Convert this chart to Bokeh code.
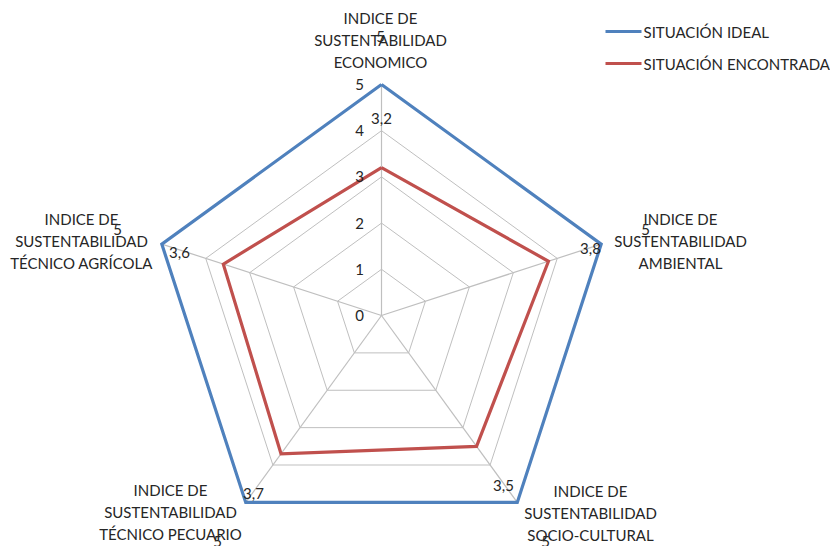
import math
from bokeh.plotting import figure
from bokeh.models import Range1d
from bokeh.core.properties import value
from bokeh.embed import file_html
from bokeh.resources import INLINE

# Radar axes, clockwise from the top
categories = [
    "INDICE DE\nSUSTENTABILIDAD\nECONOMICO",
    "INDICE DE\nSUSTENTABILIDAD\nAMBIENTAL",
    "INDICE DE\nSUSTENTABILIDAD\nSOCIO-CULTURAL",
    "INDICE DE\nSUSTENTABILIDAD\nTÉCNICO PECUARIO",
    "INDICE DE\nSUSTENTABILIDAD\nTÉCNICO AGRÍCOLA",
]
ideal = [5, 5, 5, 5, 5]
encontrada = [3.2, 3.8, 3.5, 3.7, 3.6]
ticks = [0, 1, 2, 3, 4, 5]
series_names = ["SITUACIÓN IDEAL", "SITUACIÓN ENCONTRADA"]

BLUE = "#4F81BD"
RED = "#C0504D"
GRID = "#BFBFBF"
TXT = "#262626"
FONT = value("Lato")

W, H = 830, 546
CX, CY = 381, 315      # pixel centre of the radar
S = 46.2               # pixels per unit


def to_data(px, py):
    return (px - CX) / S, (CY - py) / S


n = len(categories)
angles = [math.pi / 2 - 2 * math.pi * i / n for i in range(n)]


def polygon(vals):
    xs = [v * math.cos(a) for v, a in zip(vals, angles)]
    ys = [v * math.sin(a) for v, a in zip(vals, angles)]
    return xs + xs[:1], ys + ys[:1]


p = figure(width=W, height=H, output_backend="svg", toolbar_location=None,
           x_range=Range1d(-CX / S, (W - CX) / S),
           y_range=Range1d((CY - H) / S, CY / S),
           min_border=0)
p.axis.visible = False
p.grid.visible = False
p.outline_line_color = None
p.background_fill_color = "white"

# rings and spokes
for t in ticks[1:]:
    xs, ys = polygon([t] * n)
    p.line(xs, ys, line_color=GRID, line_width=1)
for a in angles:
    p.line([0, ticks[-1] * math.cos(a)], [0, ticks[-1] * math.sin(a)],
           line_color=GRID, line_width=1.2)

# series
xs, ys = polygon(ideal)
p.line(xs, ys, line_color=BLUE, line_width=3.2, line_join="miter")
xs, ys = polygon(encontrada)
p.line(xs, ys, line_color=RED, line_width=3.2, line_join="miter")

# radial tick labels along the top spoke
tx, _ = to_data(359, 0)
p.text([tx] * len(ticks), [t for t in ticks], text=[str(t) for t in ticks],
       text_font=FONT, text_font_size="15px", text_color=TXT,
       text_align="center", text_baseline="middle")

# category labels: block centres (px) and line spacing
cat_pos = [(380, 39), (680, 240), (590, 512), (170, 511), (81, 240)]
LINE = 22
for label, (px, py) in zip(categories, cat_pos):
    lines = label.split("\n")
    k = len(lines)
    for j, ln in enumerate(lines):
        x, y = to_data(px, py + (j - (k - 1) / 2) * LINE)
        p.text([x], [y], text=[ln], text_font=FONT, text_font_size="15px",
               text_color=TXT, text_align="center", text_baseline="middle")

# data labels
ideal_pos = [(380, 36), (645, 229), (545, 541), (217, 541), (117, 229)]
enc_pos = [(381, 118), (590, 248), (503, 485), (253, 493), (179, 252)]


def fmt(v):
    return ("%g" % v).replace(".", ",")


for vals, pos in ((ideal, ideal_pos), (encontrada, enc_pos)):
    for v, (px, py) in zip(vals, pos):
        x, y = to_data(px, py)
        p.text([x], [y], text=[fmt(v)], text_font=FONT, text_font_size="15px",
               text_color=TXT, text_align="center", text_baseline="middle")

# legend
for name, col, py in zip(series_names, [BLUE, RED], [31, 63]):
    x0, y0 = to_data(605, py)
    x1, _ = to_data(641, py)
    p.line([x0, x1], [y0, y0], line_color=col, line_width=3)
    xt, _ = to_data(643, py)
    p.text([xt], [y0], text=[name], text_font=FONT, text_font_size="15px",
           text_color=TXT, text_align="left", text_baseline="middle")

open("out.html", "w").write(file_html(p, INLINE))
